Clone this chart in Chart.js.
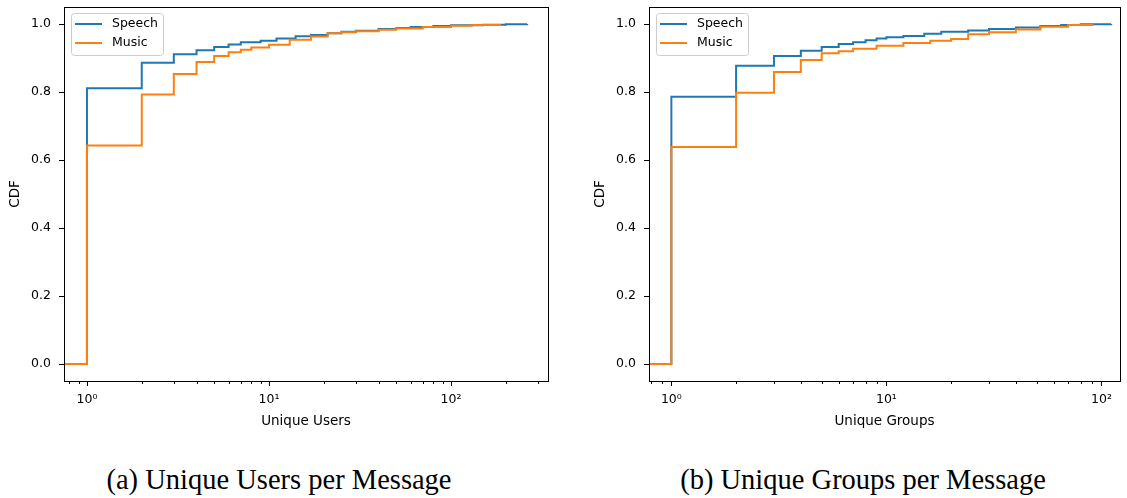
<!DOCTYPE html>
<html>
<head>
<meta charset="utf-8">
<script src="https://cdn.jsdelivr.net/npm/chart.js@4"></script>
<style>
  body { margin: 0; background: #fff; width: 1127px; height: 498px; position: relative; overflow: hidden; }
  canvas { position: absolute; top: 0; }
  #users { left: 0; }
  #groups { left: 580px; }
  .cap { position: absolute; top: 464px; font-family: "Liberation Serif", serif; font-size: 28.5px;
         white-space: nowrap; transform: translateX(-50%); color: #000; }
</style>
</head>
<body>
<canvas id="users" width="560" height="440"></canvas>
<canvas id="groups" width="547" height="440"></canvas>
<div class="cap" style="left:279px">(a) Unique Users per Message</div>
<div class="cap" style="left:863px">(b) Unique Groups per Message</div>
<script>
const seriesNames = ['Speech', 'Music'];
const seriesColors = ['#1f77b4', '#ff7f0e'];

// unique users per message (empirical CDF, step points)
const usersSpeechX = [0.748, 1, 2, 3, 4, 5, 6, 7, 9, 11, 14, 17, 21, 25, 30, 40, 50, 60, 80, 100, 150, 200, 262];
const usersSpeechY = [0, 0.811, 0.886, 0.911, 0.923, 0.932, 0.940, 0.946, 0.951, 0.957, 0.964, 0.968, 0.973, 0.977, 0.980, 0.985, 0.988, 0.991, 0.994, 0.996, 0.998, 0.999, 1.0];
const usersMusicX = [0.748, 1, 2, 3, 4, 5, 6, 7, 8, 10, 13, 17, 21, 25, 30, 40, 50, 70, 100, 130, 186];
const usersMusicY = [0, 0.643, 0.793, 0.853, 0.888, 0.906, 0.917, 0.924, 0.931, 0.939, 0.954, 0.963, 0.973, 0.976, 0.979, 0.983, 0.987, 0.991, 0.995, 0.997, 1.0];

// unique groups per message
const groupsSpeechX = [0.787, 1, 2, 3, 4, 5, 6, 7, 8, 9, 10, 12, 15, 18, 24, 30, 40, 52, 65, 80, 111];
const groupsSpeechY = [0, 0.786, 0.877, 0.906, 0.921, 0.932, 0.941, 0.946, 0.952, 0.957, 0.961, 0.965, 0.971, 0.977, 0.981, 0.985, 0.990, 0.994, 0.997, 0.999, 1.0];
const groupsMusicX = [0.787, 1, 2, 3, 4, 5, 6, 7, 9, 12, 16, 20, 24, 30, 40, 52, 70, 91];
const groupsMusicY = [0, 0.638, 0.798, 0.859, 0.894, 0.914, 0.920, 0.927, 0.936, 0.944, 0.951, 0.956, 0.970, 0.976, 0.984, 0.992, 0.997, 1.0];

const xTicks = [1, 10, 100];
const yTicks = [0, 0.2, 0.4, 0.6, 0.8, 1.0];

const FONT = 'DejaVu Sans';
const SUP = { '0': '\u2070', '1': '\u00b9', '2': '\u00b2', '3': '\u00b3' };
const powLabel = v => '10' + String(Math.round(Math.log10(v))).split('').map(d => SUP[d]).join('');

// no extra room for tick labels, the plot box is placed by layout padding
function fixBox(s, size) {
  if (s.isHorizontal()) s.height = size; else s.width = size;
  s.paddingTop = s.paddingBottom = s.paddingLeft = s.paddingRight = 0;
}

// matplotlib-ish box, tick marks and legend
const axesDecor = {
  id: 'axesDecor',
  afterDraw(chart) {
    const { ctx, chartArea: a, scales: { x, y } } = chart;
    ctx.save();
    ctx.strokeStyle = '#000';
    ctx.lineWidth = 1;
    ctx.beginPath();
    for (const t of yTicks) {
      const py = Math.round(y.getPixelForValue(t)) + 0.5;
      ctx.moveTo(a.left - 5, py);
      ctx.lineTo(a.left, py);
    }
    for (let d = Math.floor(Math.log10(x.min)); d <= Math.ceil(Math.log10(x.max)); d++) {
      for (let m = 1; m < 10; m++) {
        const v = m * Math.pow(10, d);
        if (v < x.min || v > x.max) continue;
        const px = Math.round(x.getPixelForValue(v)) + 0.5;
        ctx.moveTo(px, a.bottom);
        ctx.lineTo(px, a.bottom + (m === 1 ? 5 : 3));
      }
    }
    ctx.stroke();
    ctx.strokeRect(Math.round(a.left) + 0.5, Math.round(a.top) + 0.5,
                   Math.round(a.right - a.left), Math.round(a.bottom - a.top));

    // legend box
    const bx = a.left + 7.5, by = a.top + 6.5, bw = 92, bh = 42;
    ctx.beginPath();
    ctx.roundRect(bx, by, bw, bh, 3);
    ctx.fillStyle = 'rgba(255,255,255,0.8)';
    ctx.fill();
    ctx.strokeStyle = '#cccccc';
    ctx.stroke();
    ctx.font = '12.5px "' + FONT + '"';
    ctx.textBaseline = 'middle';
    seriesNames.forEach((name, i) => {
      const ly = a.top + 17 + i * 19;
      ctx.strokeStyle = seriesColors[i];
      ctx.lineWidth = 2;
      ctx.beginPath();
      ctx.moveTo(a.left + 11, ly);
      ctx.lineTo(a.left + 38, ly);
      ctx.stroke();
      ctx.fillStyle = '#000';
      ctx.fillText(name, a.left + 48, ly);
    });
    ctx.restore();
  }
};

function cdfChart(id, xLabel, xMin, xMax, series, yWidth, titleLeft, rightPad) {
  const datasets = series.map((s, i) => ({
    label: seriesNames[i],
    data: s.x.map((v, j) => ({ x: v, y: s.y[j] })),
    borderColor: seriesColors[i],
    borderWidth: 2,
    pointRadius: 0,
    stepped: 'before',
    fill: false,
    order: series.length - i
  }));
  return new Chart(document.getElementById(id), {
    type: 'line',
    data: { datasets },
    plugins: [axesDecor],
    options: {
      responsive: false,
      animation: false,
      layout: { padding: { top: 7, right: rightPad, left: 0, bottom: 0 } },
      plugins: { legend: { display: false }, tooltip: { enabled: false } },
      scales: {
        x: {
          type: 'logarithmic',
          bounds: 'data',
          min: xMin,
          max: xMax,
          afterBuildTicks: s => { s.ticks = xTicks.map(v => ({ value: v })); },
          afterFit: s => fixBox(s, 59),
          ticks: { callback: v => powLabel(v), color: '#000', padding: 11, maxRotation: 0, autoSkip: false,
                   font: { family: FONT, size: 12.5 } },
          grid: { display: false, drawTicks: false },
          border: { display: false },
          title: { display: true, text: xLabel, color: '#000', font: { family: FONT, size: 13.5 },
                   padding: { top: 0, bottom: 10 } }
        },
        y: {
          bounds: 'data',
          min: -0.05,
          max: 1.05,
          afterBuildTicks: s => { s.ticks = yTicks.map(v => ({ value: v })); },
          afterFit: s => fixBox(s, yWidth),
          ticks: { callback: v => v.toFixed(1), color: '#000', padding: 13, font: { family: FONT, size: 12.5 } },
          grid: { display: false, drawTicks: false },
          border: { display: false },
          title: { display: true, text: 'CDF', color: '#000', font: { family: FONT, size: 13.5 },
                   padding: { top: titleLeft, bottom: 0 } }
        }
      }
    }
  });
}

cdfChart('users', 'Unique Users', 0.748, 341, [
  { x: usersSpeechX, y: usersSpeechY },
  { x: usersMusicX, y: usersMusicY }
], 64, 7, 12);

cdfChart('groups', 'Unique Groups', 0.787, 122, [
  { x: groupsSpeechX, y: groupsSpeechY },
  { x: groupsMusicX, y: groupsMusicY }
], 69, 12, 7);
</script>
</body>
</html>
